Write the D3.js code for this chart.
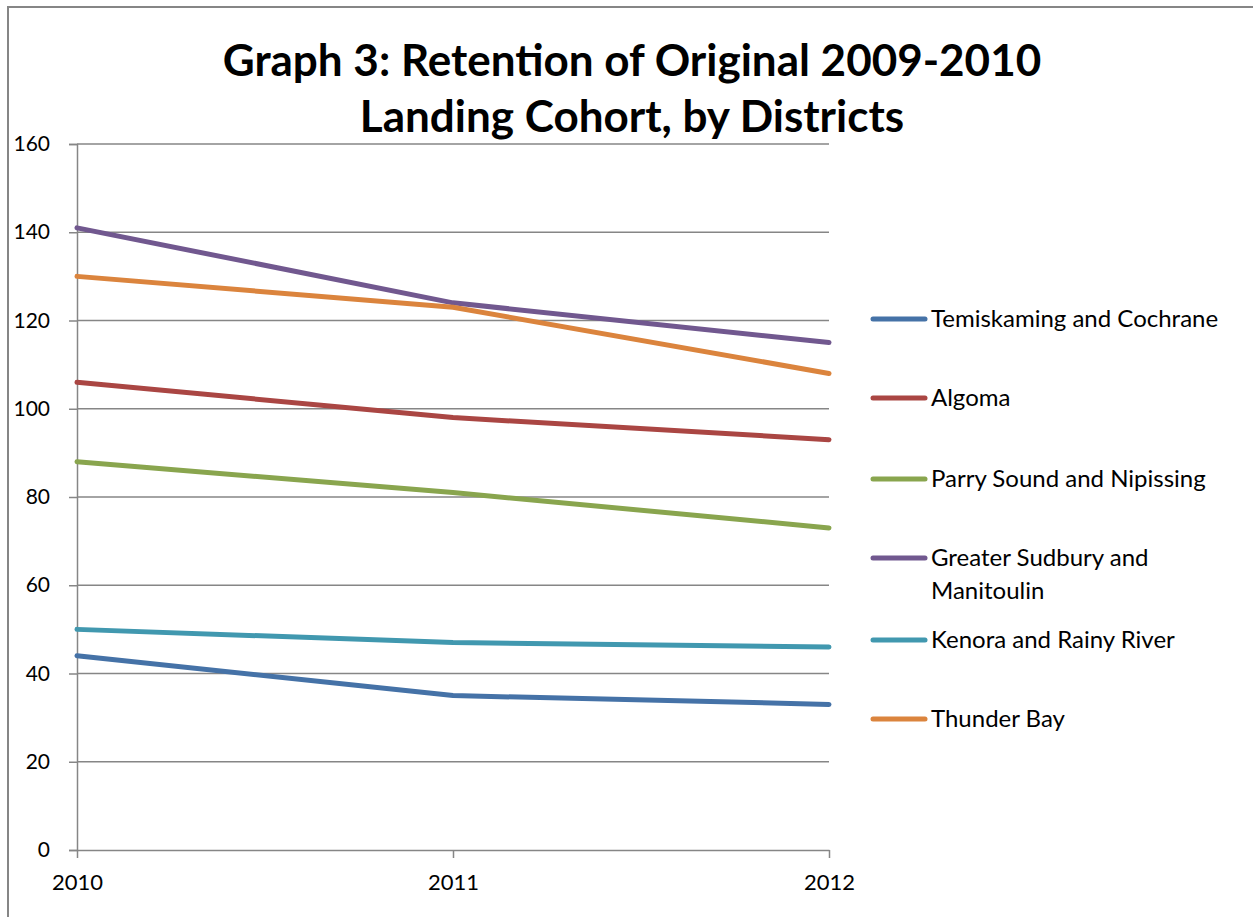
<!DOCTYPE html>
<html>
<head>
  <meta charset="utf-8">
  <title>Graph 3 - retention by district</title>
  <script src="https://d3js.org/d3.v7.min.js"></script>
  <style>
    body { margin: 0; background: #fff; }
    text { font-family: Lato, "Open Sans", sans-serif; fill: #000; }
  </style>
</head>
<body>
<div id="chart"></div>
<script>
// data
var years = ["2010", "2011", "2012"];
var districts = ["Temiskaming and Cochrane", "Algoma", "Parry Sound and Nipissing",
                 "Greater Sudbury and Manitoulin", "Kenora and Rainy River", "Thunder Bay"];
var temiskaming = [44, 35, 33];
var algoma = [106, 98, 93];
var parrySound = [88, 81, 73];
var sudbury = [141, 124, 115];
var kenora = [50, 47, 46];
var thunderBay = [130, 123, 108];
var yTicks = [0, 20, 40, 60, 80, 100, 120, 140, 160];
var colors = ["#4572A7", "#AA4643", "#89A54E", "#71588F", "#4198AF", "#DB843D"];

var series = [temiskaming, algoma, parrySound, sudbury, kenora, thunderBay];

var W = 1253, H = 917;
var margin = {top: 144, left: 77, right: 424, bottom: 67};
var width = W - margin.left - margin.right,
    height = H - margin.top - margin.bottom;

var svg = d3.select("#chart").append("svg")
    .attr("width", W).attr("height", H);

// outer chart border (runs off the page on right / bottom)
svg.append("path")
    .attr("d", "M8," + H + " V7 H" + W)
    .attr("fill", "none")
    .attr("stroke", "#868686")
    .attr("stroke-width", 2);

// title
var title = svg.append("text")
    .attr("text-anchor", "middle")
    .style("font-weight", "bold")
    .style("font-size", "44px");
title.append("tspan").attr("x", 632).attr("y", 76).text("Graph 3: Retention of Original 2009-2010");
title.append("tspan").attr("x", 632).attr("y", 132).text("Landing Cohort, by Districts");

var g = svg.append("g")
    .attr("transform", "translate(" + margin.left + "," + margin.top + ")");

var x = d3.scalePoint().domain(years).range([0, width]);
var y = d3.scaleLinear().domain([0, 160]).range([height, 0]);

// gridlines
g.append("g")
  .selectAll("line")
  .data(yTicks.slice(1))
  .enter().append("line")
    .attr("x1", 0).attr("x2", width)
    .attr("y1", function(d) { return y(d); })
    .attr("y2", function(d) { return y(d); })
    .attr("stroke", "#868686")
    .attr("stroke-width", 1.5);

// y axis
var yAxis = g.append("g")
    .call(d3.axisLeft(y).tickValues(yTicks).tickSize(8).tickPadding(19));
yAxis.select(".domain").attr("stroke", "#868686").attr("stroke-width", 1.5);
yAxis.selectAll(".tick line").attr("stroke", "#868686").attr("stroke-width", 1.5);
yAxis.selectAll("text").style("font-size", "21px").attr("fill", "#000");

// x axis
var xAxis = g.append("g")
    .attr("transform", "translate(0," + height + ")")
    .call(d3.axisBottom(x).tickSize(8).tickSizeOuter(0).tickPadding(16));
xAxis.select(".domain").attr("stroke", "#868686").attr("stroke-width", 1.5);
xAxis.selectAll(".tick line").attr("stroke", "#868686").attr("stroke-width", 1.5);
xAxis.selectAll("text").style("font-size", "22px").attr("fill", "#000");

// lines
var line = d3.line()
    .x(function(d, i) { return x(years[i]); })
    .y(function(d) { return y(d); });

g.selectAll(".series")
  .data(series)
  .enter().append("path")
    .attr("class", "series")
    .attr("d", line)
    .attr("fill", "none")
    .attr("stroke", function(d, i) { return colors[i]; })
    .attr("stroke-width", 5)
    .attr("stroke-linecap", "round")
    .attr("stroke-linejoin", "round");

// legend
var legendY = [319, 398, 479, 558, 640, 719];
var legend = svg.append("g");
districts.forEach(function(name, i) {
  var row = legend.append("g").attr("transform", "translate(873," + legendY[i] + ")");
  row.append("line")
      .attr("x1", 0).attr("x2", 52)
      .attr("stroke", colors[i]).attr("stroke-width", 5)
      .attr("stroke-linecap", "round");
  var t = row.append("text")
      .attr("x", 58).attr("y", 8)
      .style("font-size", "24px");
  if (name == "Greater Sudbury and Manitoulin") {
    t.append("tspan").attr("x", 58).text("Greater Sudbury and");
    t.append("tspan").attr("x", 58).attr("dy", 33).text("Manitoulin");
  } else {
    t.text(name);
  }
});
</script>
</body>
</html>
